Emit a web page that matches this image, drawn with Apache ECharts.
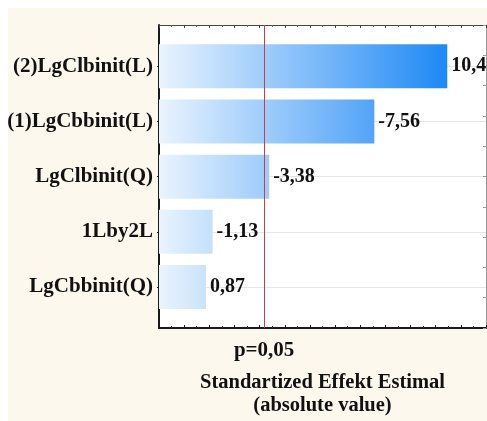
<!DOCTYPE html>
<html>
<head>
<meta charset="utf-8">
<script src="https://cdn.jsdelivr.net/npm/echarts@6/dist/echarts.min.js"></script>
<style>
html,body{margin:0;padding:0;background:#ffffff;}
#c{position:absolute;left:8px;top:8px;width:479px;height:413px;}
</style>
</head>
<body>
<div id="c"></div>
<script>
const categories = ['(2)LgClbinit(L)', '(1)LgCbbinit(L)', 'LgClbinit(Q)', '1Lby2L', 'LgCbbinit(Q)'];
const effects = [10.46, -7.56, -3.38, -1.13, 0.87];
const criticalValue = 3.182;
const criticalLabel = 'p=0,05';
const xTitle = 'Standartized Effekt Estimal\n(absolute value)';
const axisMin = -1;
const axisMax = 12;

const absValues = effects.map(v => Math.abs(v));
const font = 'Liberation Serif';
const chart = echarts.init(document.getElementById('c'));
const frameGrid = {left: 151, right: 1, top: 17, bottom: 93, outerBoundsMode: 'none'};
const barGrid = {left: 151, right: 1, top: 30.7, bottom: 106.4, outerBoundsMode: 'none'};

chart.setOption({
  backgroundColor: '#fcf8ee',
  animation: false,
  grid: [
    Object.assign({backgroundColor: '#ffffff', show: true, borderWidth: 0}, frameGrid),
    barGrid
  ],
  xAxis: [
    {
      gridIndex: 0, type: 'value', min: axisMin, max: axisMax, interval: 1, position: 'bottom',
      axisLine: {show: true, onZero: false, lineStyle: {color: '#1a1a1a', width: 2}},
      axisTick: {show: true, inside: true, length: 3, lineStyle: {color: '#1a1a1a'}},
      minorTick: {show: true, splitNumber: 2, length: 2, lineStyle: {color: '#333'}},
      axisLabel: {show: false},
      splitLine: {show: false},
      name: xTitle, nameLocation: 'middle', nameGap: 43,
      nameTextStyle: {fontFamily: font, fontWeight: 'bold', fontSize: 20.5, color: '#111', lineHeight: 23}
    },
    {
      gridIndex: 0, type: 'value', min: axisMin, max: axisMax, interval: 1, position: 'top',
      axisLine: {show: true, onZero: false, lineStyle: {color: '#444', width: 1}},
      axisTick: {show: true, inside: true, length: 3, lineStyle: {color: '#444'}},
      minorTick: {show: true, splitNumber: 2, length: 2, lineStyle: {color: '#666'}},
      axisLabel: {show: false}, splitLine: {show: false}
    },
    {
      gridIndex: 1, type: 'value', min: axisMin, max: axisMax, startValue: axisMin, show: false,
      axisLine: {onZero: false}
    }
  ],
  yAxis: [
    {
      gridIndex: 0, type: 'value', min: 0, max: 10, interval: 1, position: 'left',
      axisLine: {show: true, onZero: false, lineStyle: {color: '#1a1a1a', width: 2}},
      axisTick: {show: false}, axisLabel: {show: false}, splitLine: {show: false}
    },
    {
      gridIndex: 0, type: 'value', min: 0, max: 10, interval: 1, position: 'right',
      axisLine: {show: true, onZero: false, lineStyle: {color: '#999', width: 1}},
      axisTick: {show: true, inside: true, length: 3, lineStyle: {color: '#999'}},
      axisLabel: {show: false}, splitLine: {show: false}
    },
    {
      gridIndex: 1, type: 'category', data: categories, inverse: true, position: 'left',
      axisLine: {show: false, onZero: false},
      axisTick: {show: true, alignWithLabel: true, length: 2, lineStyle: {color: '#222'}},
      axisLabel: {margin: 6, fontFamily: font, fontWeight: 'bold', fontSize: 21, color: '#111'},
      splitLine: {show: true, alignWithLabel: true, lineStyle: {color: '#e6e6e6', width: 1}}
    }
  ],
  series: [
    {
      type: 'scatter', xAxisIndex: 0, yAxisIndex: 0, data: [], symbolSize: 0, silent: true,
      markLine: {
        silent: true, symbol: 'none',
        lineStyle: {color: '#c04050', width: 1, type: 'solid'},
        label: {show: true, position: 'start', distance: 12, formatter: criticalLabel,
                fontFamily: font, fontWeight: 'bold', fontSize: 21, color: '#111'},
        data: [{xAxis: criticalValue}]
      }
    },
    {
      type: 'bar', xAxisIndex: 2, yAxisIndex: 2, data: absValues, barWidth: 44,
      itemStyle: {
        color: new echarts.graphic.LinearGradient(151, 0, 440, 0, [
          {offset: 0, color: '#eaf4fe'},
          {offset: 1, color: '#1e88f5'}
        ], true)
      },
      label: {
        show: true, position: 'right', distance: 4,
        fontFamily: font, fontWeight: 'bold', fontSize: 20, color: '#111',
        formatter: p => effects[p.dataIndex].toFixed(2).replace('.', ',')
      }
    }
  ]
});
</script>
</body>
</html>
